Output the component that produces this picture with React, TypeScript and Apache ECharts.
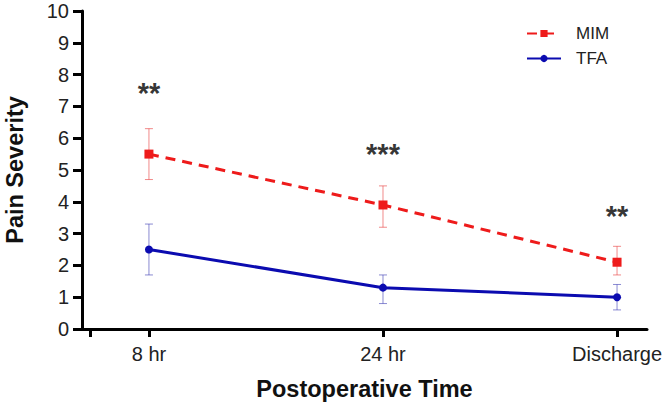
import React, { useEffect, useRef } from "react";
import * as echarts from "echarts";

const categories = ["8 hr", "24 hr", "Discharge"];
const xPositions = [1, 2, 3];
const extraTick = 0.75;
const mimMean = [5.5, 3.9, 2.1];
const mimLow = [4.7, 3.2, 1.7];
const mimHigh = [6.3, 4.5, 2.6];
const tfaMean = [2.5, 1.3, 1.0];
const tfaLow = [1.7, 0.8, 0.6];
const tfaHigh = [3.3, 1.7, 1.4];
const sigLabels = ["**", "***", "**"];
const sigY = [7.6, 5.7, 3.75];
const yTicks = [0, 1, 2, 3, 4, 5, 6, 7, 8, 9, 10];

const RED = "#ee1b1b";
const BLUE = "#0b0bb0";
const FONT = "'Liberation Sans', Arial, Helvetica, sans-serif";

function errorSeries(name: string, low: number[], high: number[], color: string) {
  return {
    name,
    type: "custom",
    z: 1,
    silent: true,
    data: xPositions.map((x, i) => [x, low[i], high[i]]),
    encode: { x: 0, y: [1, 2] },
    renderItem: (params: any, api: any) => {
      const x = api.value(0);
      const top = api.coord([x, api.value(2)]);
      const bot = api.coord([x, api.value(1)]);
      const hw = 4;
      const style = { stroke: color, lineWidth: 1 };
      return {
        type: "group",
        children: [
          { type: "line", shape: { x1: top[0], y1: top[1], x2: bot[0], y2: bot[1] }, style },
          { type: "line", shape: { x1: top[0] - hw, y1: top[1], x2: top[0] + hw, y2: top[1] }, style },
          { type: "line", shape: { x1: bot[0] - hw, y1: bot[1], x2: bot[0] + hw, y2: bot[1] }, style },
        ],
      };
    },
  };
}

export default function App() {
  const ref = useRef<HTMLDivElement>(null);
  useEffect(() => {
    if (!ref.current) return;
    const chart = echarts.init(ref.current, undefined, { renderer: "svg" });
    chart.setOption({
      animation: false,
      backgroundColor: "#ffffff",
      textStyle: { fontFamily: FONT },
      grid: { left: 82, right: 18, top: 11, bottom: 77, containLabel: false, outerBoundsMode: "none" },
      legend: {
        data: ["MIM", "TFA"],
        orient: "vertical",
        left: 521,
        top: 20,
        itemWidth: 34,
        itemHeight: 9,
        itemGap: 8,
        textStyle: { fontSize: 17, color: "#222", fontFamily: FONT, padding: [0, 0, 0, 10] },
      },
      xAxis: {
        type: "value",
        min: 0.714,
        max: 3.128,
        name: "Postoperative Time",
        nameLocation: "middle",
        nameGap: 48,
        nameTextStyle: { fontSize: 23.5, fontWeight: "bold", color: "#111", fontFamily: FONT },
        splitLine: { show: false },
        axisLine: { show: true, lineStyle: { color: "#000", width: 3 } },
        axisTick: {
          show: true,
          length: 8,
          lineStyle: { color: "#000", width: 3 },
          customValues: [extraTick, ...xPositions],
        },
        axisLabel: {
          show: true,
          customValues: xPositions,
          margin: 15,
          fontSize: 20,
          color: "#222",
          fontFamily: FONT,
          formatter: (v: number) => {
            const i = xPositions.indexOf(Math.round(v));
            return i >= 0 ? categories[i] : "";
          },
        },
      },
      yAxis: {
        type: "value",
        min: 0,
        max: 10,
        interval: 1,
        name: "Pain Severity",
        nameLocation: "middle",
        nameGap: 55,
        nameTextStyle: { fontSize: 23.5, fontWeight: "bold", color: "#111", fontFamily: FONT },
        splitLine: { show: false },
        axisLine: { show: true, lineStyle: { color: "#000", width: 3 } },
        axisTick: { show: true, length: 9, lineStyle: { color: "#000", width: 3 }, customValues: yTicks },
        axisLabel: { margin: 13, fontSize: 20, color: "#222", fontFamily: FONT, customValues: yTicks },
      },
      series: [
        errorSeries("MIM err", mimLow, mimHigh, "rgba(232,60,60,0.6)"),
        errorSeries("TFA err", tfaLow, tfaHigh, "rgba(60,60,180,0.6)"),
        {
          name: "MIM",
          type: "line",
          z: 3,
          data: xPositions.map((x, i) => [x, mimMean[i]]),
          symbol: "rect",
          symbolSize: 9,
          itemStyle: { color: RED },
          lineStyle: { color: RED, width: 3, type: [10, 7] },
        },
        {
          name: "TFA",
          type: "line",
          z: 3,
          data: xPositions.map((x, i) => [x, tfaMean[i]]),
          symbol: "circle",
          symbolSize: 8,
          itemStyle: { color: BLUE },
          lineStyle: { color: BLUE, width: 3 },
        },
        {
          name: "sig",
          type: "scatter",
          symbolSize: 0,
          silent: true,
          data: xPositions.map((x, i) => ({ value: [x, sigY[i]], label: { formatter: sigLabels[i] } })),
          label: {
            show: true,
            position: "inside",
            offset: [0, 6],
            fontSize: 29,
            fontWeight: "bold",
            color: "#000",
            fontFamily: FONT,
          },
        },
      ],
    });
    return () => chart.dispose();
  }, []);
  return <div ref={ref} style={{ width: 665, height: 406, position: "absolute", left: 0, top: 0 }} />;
}
